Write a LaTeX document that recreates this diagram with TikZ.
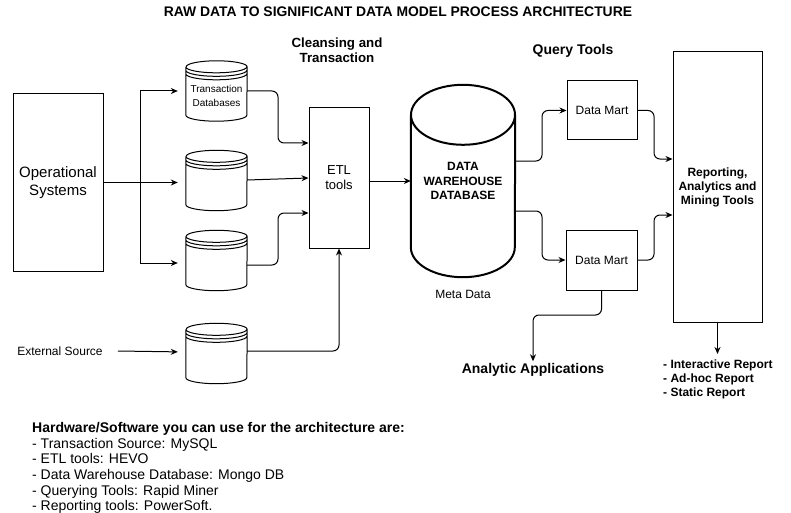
\documentclass[tikz,border=0pt]{standalone}
\usepackage{fontspec}
\setmainfont{Liberation Sans}
\usetikzlibrary{arrows.meta,calc}
\tikzset{
  arr/.style={draw=black, line width=1pt, -{Stealth[length=7pt,width=6pt]}, rounded corners=6pt},
  sharparr/.style={draw=black, line width=1pt, -{Stealth[length=7pt,width=6pt]}},
  box/.style={draw=black, line width=1pt, rectangle, inner sep=0pt, align=center},
  lbl/.style={inner sep=0pt, align=center},
}
\newcommand{\dstore}[1]{%
  \draw[line width=1pt] let \p1=(#1.north west), \p2=(#1.south east) in
    (\x1,\y1-6pt) -- (\x1,\y2+6pt) arc[start angle=180,end angle=360,x radius=30.5pt,y radius=6pt]
    -- (\x2,\y1-6pt) arc[start angle=0,end angle=180,x radius=30.5pt,y radius=6pt]
    (\x1,\y1-6pt) arc[start angle=180,end angle=360,x radius=30.5pt,y radius=6pt]
    (\x1,\y1-9.5pt) arc[start angle=180,end angle=360,x radius=30.5pt,y radius=6pt]
    (\x1,\y1-13pt) arc[start angle=180,end angle=360,x radius=30.5pt,y radius=6pt];}
\begin{document}
\begin{tikzpicture}[x=1pt,y=-1pt]
\fill[white] (0,0) rectangle (791,513);
\useasboundingbox (0,0) rectangle (791,513);

% titles
\node[lbl, font=\bfseries\fontsize{13.9}{16}\selectfont] (title) at (398,12) {RAW DATA TO SIGNIFICANT DATA MODEL PROCESS ARCHITECTURE};
\node[lbl, font=\bfseries\fontsize{13.3}{15}\selectfont] (clean) at (337,50) {Cleansing and\\Transaction};
\node[lbl, font=\bfseries\fontsize{14}{15}\selectfont] (qt) at (573,51) {Query Tools};

% boxes
\node[box, minimum width=90pt, minimum height=177pt, font=\fontsize{15}{17.5}\selectfont] (os) at (58,182.5) {Operational\\Systems};
\node[box, minimum width=60pt, minimum height=140pt, font=\fontsize{13}{15}\selectfont] (etl) at (339,178) {ETL\\tools};
\node[box, minimum width=70pt, minimum height=59pt, font=\fontsize{12}{14}\selectfont] (dm1) at (602,110.5) {Data Mart};
\node[box, minimum width=71pt, minimum height=60pt, font=\fontsize{12}{14}\selectfont] (dm2) at (601.5,260) {Data Mart};
\node[box, minimum width=89pt, minimum height=270pt, font=\bfseries\fontsize{12}{14}\selectfont] (rep) at (717.5,187) {Reporting,\\Analytics and\\Mining Tools};

% data stores
\node[lbl, minimum width=61pt, minimum height=60pt] (c1) at (216.5,91) {};
\node[lbl, minimum width=61pt, minimum height=60pt] (c2) at (216.5,180.5) {};
\node[lbl, minimum width=61pt, minimum height=60pt] (c3) at (216.5,260.5) {};
\node[lbl, minimum width=61pt, minimum height=60pt] (c4) at (216.5,353.5) {};
\dstore{c1}\dstore{c2}\dstore{c3}\dstore{c4}
\node[lbl, font=\fontsize{10}{14}\selectfont] (c1t) at (216.5,96) {Transaction\\Databases};

% warehouse
\node[lbl, minimum width=104pt, minimum height=192pt, font=\bfseries\fontsize{12}{14.5}\selectfont] (dw) at (463,181) {DATA\\WAREHOUSE\\DATABASE};
\draw[line width=2pt] let \p1=(dw.north west), \p2=(dw.south east) in
  (\x1,\y1-30pt) -- (\x1,\y2+30pt) arc[start angle=180,end angle=360,x radius=52pt,y radius=30pt]
  -- (\x2,\y1-30pt)
  ($(dw.north)+(0,30)$) ellipse[x radius=52pt,y radius=30pt];

% other labels
\node[lbl, font=\fontsize{12}{14}\selectfont] (ext) at (60,351) {External Source};
\node[lbl, font=\fontsize{12}{14}\selectfont] (meta) at (463,294) {Meta Data};
\node[lbl, font=\bfseries\fontsize{14}{15}\selectfont] (aa) at (533,370) {Analytic Applications};
\node[lbl, anchor=north west, align=left, font=\bfseries\fontsize{12}{14}\selectfont] (list) at (663,360) {- Interactive Report\\- Ad-hoc Report\\- Static Report};
\node[lbl, anchor=north west, align=left, font=\fontsize{14}{15.7}\selectfont] (hw) at (32,422) {\textbf{Hardware/Software you can use for the architecture are:}\\- Transaction Source: MySQL\\- ETL tools: HEVO\\- Data Warehouse Database: Mongo DB\\- Querying Tools: Rapid Miner\\- Reporting tools: PowerSoft.};

% connectors
\draw[sharparr, shorten >=8pt] (os.east) -- (140,182.5) |- (c1.west);
\draw[sharparr, shorten >=8pt] (os.east) -- (c2.west |- os.east);
\draw[sharparr, shorten >=8pt] (os.east) -- (140,182.5) |- (c3.west |- 0,263);
\draw[sharparr, shorten >=8pt] ([xshift=15pt]ext.east) -- (c4.west |- 0,352);
\draw[arr] (c1.east) -- (278,91) |- (etl.west |- 0,143);
\draw[arr] (c2.east |- 0,180) -- (etl.west |- 0,178);
\draw[arr] (c3.east |- 0,265) -- (278,265) |- (etl.west |- 0,213);
\draw[arr] (c4.east |- 0,351) -| (etl.south);
\draw[arr] (etl.east |- 0,181) -- (dw.west |- 0,181);
\draw[arr] (dw.east |- 0,161) -- (542,161) |- (dm1.west);
\draw[arr] (dw.east |- 0,211) -- (542,211) |- (dm2.west);
\draw[arr] (dm1.east) -- (654,110.5) |- (rep.west |- 0,159);
\draw[arr] (dm2.east) -- (654,260) |- (rep.west |- 0,215);
\draw[arr, shorten >=2pt] (dm2.south) -- (601.5,315) -| (aa.north);
\draw[arr, shorten >=6pt] (rep.south) -- (rep.south |- list.north);
\end{tikzpicture}
\end{document}
